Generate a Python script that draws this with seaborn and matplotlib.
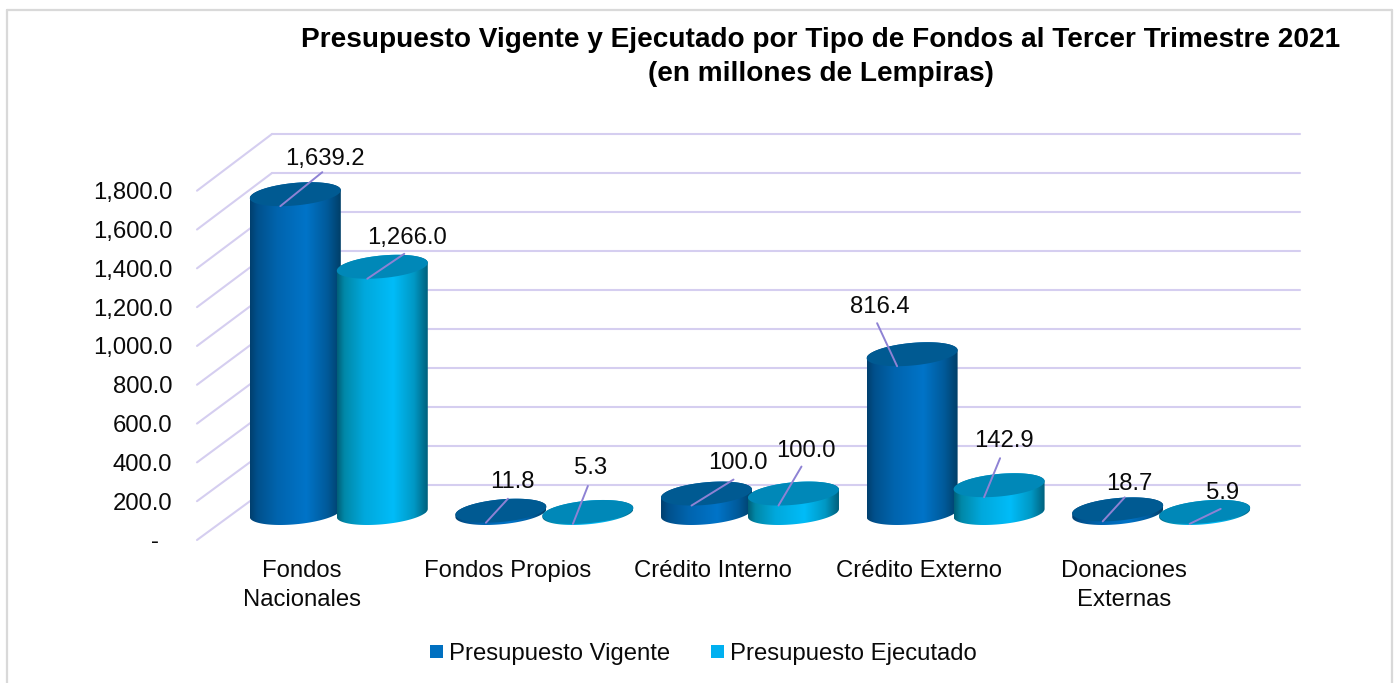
import numpy as np
import pandas as pd
import matplotlib
matplotlib.use("Agg")
import matplotlib.pyplot as plt
import seaborn as sns
from matplotlib.colors import to_rgb
from matplotlib.lines import Line2D
from matplotlib.patches import Patch, Polygon
from matplotlib.transforms import IdentityTransform

# ---------- data ----------
categories = ["Fondos\nNacionales", "Fondos Propios", "Crédito Interno",
              "Crédito Externo", "Donaciones\nExternas"]
vigente = [1639.2, 11.8, 100.0, 816.4, 18.7]
ejecutado = [1266.0, 5.3, 100.0, 142.9, 5.9]
series_names = ["Presupuesto Vigente", "Presupuesto Ejecutado"]
tick_values = [0, 200, 400, 600, 800, 1000, 1200, 1400, 1600, 1800]
title_text = ("Presupuesto Vigente y Ejecutado por Tipo de Fondos al Tercer Trimestre 2021\n"
              "(en millones de Lempiras)")

# ---------- layout / style (pixels) ----------
W, H = 1396, 683
PLOT_W = 1028
FRONT = (199, 540)   # left, zero line of the front plane
MID = (236, 513)     # plane where the cylinders stand
BACK = (272, 485)    # back wall
PX_PER_UNIT = 351 / 1800
MID_PX_PER_UNIT = 0.1945
FRONT_PX_PER_UNIT = 349.3 / 1800
BAR_PX = 91
ELL_B, ELL_K = 11.3, 4.0
FONT_PT = 17.2
# leader end and label centre, relative to the leader's start (x right, y up)
leader_end = {0: [(42, 34), (22, 24), (42, 26), (-20, 43), (22, 24)],
              1: [(37, 25), (15, 38), (23, 39), (16, 39), (31, 15)]}
label_off = {0: [(45, 47), (26, 41), (46, 43), (-17, 59), (27, 37)],
             1: [(40, 41), (18, 56), (27, 55), (20, 56), (33, 31)]}
palette = {series_names[0]: "#0070C0", series_names[1]: "#00B0F0"}
top_colors = ["#005A92", "#0088B8"]
stops = [0, .08, .3, .62, .85, 1]
body_colors = [["#003F6E", "#00508C", "#0064AE", "#0074C8", "#005A9A", "#003F68"],
               ["#005F78", "#0088A8", "#00A8DC", "#00BCF8", "#0098C4", "#00607C"]]
GRID = "#D5CEF0"
LEADER = "#8E82D4"
FRAME = "#D9D9D9"
TEXT = "#0A0A0A"

sns.set_theme(style="white", font="Liberation Sans")
plt.rcParams["font.family"] = ["Liberation Sans", "DejaVu Sans"]

fig = plt.figure(figsize=(W / 100, H / 100), dpi=100, facecolor="white")


def plane(left, zero_y, lower=0.0, scale=PX_PER_UNIT):
    """Axes with the shared scale; zero at pixel row zero_y."""
    bottom_px = zero_y + (0 - lower) * scale
    height = (1800 - lower) * scale
    ax = fig.add_axes([left / W, 1 - bottom_px / H, PLOT_W / W, height / H])
    ax.set_facecolor("none")
    ax.set_xlim(-0.5, 4.5)
    ax.set_ylim(lower, 1800)
    sns.despine(ax=ax, left=True, bottom=True)
    return ax


ax_back = plane(*BACK)
ax_front = plane(*FRONT, scale=FRONT_PX_PER_UNIT)
ax_mid = plane(*MID, lower=-170, scale=MID_PX_PER_UNIT)

identity = IdentityTransform()

# back wall grid
ax_back.set_yticks(tick_values)
ax_back.set_xticks([])
ax_back.tick_params(left=False, labelleft=False)
ax_back.grid(axis="y", color=GRID, lw=1.5)
for gl in ax_back.get_ygridlines():
    gl.set_clip_on(False)

# front plane ticks
ax_front.set_yticks(tick_values)
ax_front.set_yticklabels(["-  " if v == 0 else f"{v:,.1f}" for v in tick_values])
ax_front.set_xticks(range(len(categories)))
ax_front.set_xticklabels(categories, linespacing=1.38)
ax_front.tick_params(axis="y", length=0, pad=19.2, labelsize=FONT_PT, labelcolor=TEXT)
ax_front.tick_params(axis="x", length=0, pad=14.7, labelsize=FONT_PT, labelcolor=TEXT)

# side wall diagonals
for v in tick_values:
    p0 = ax_front.transData.transform((-0.5, v))
    p1 = ax_back.transData.transform((-0.5, v))
    ax_back.add_line(Line2D([p0[0] - 2, p1[0]], [p0[1], p1[1]], color=GRID, lw=1.5,
                            transform=identity, clip_on=False))

# bars
df = pd.DataFrame({
    "categoria": categories * 2,
    "serie": [series_names[0]] * len(categories) + [series_names[1]] * len(categories),
    "valor": vigente + ejecutado,
})
sns.barplot(data=df, x="categoria", y="valor", hue="serie", order=categories,
            hue_order=series_names, palette=palette, width=0.846, saturation=1,
            legend=False, ax=ax_mid, zorder=2)
ax_mid.set_xlim(-0.5, 4.5)
ax_mid.set_ylim(-170, 1800)
ax_mid.set_xlabel("")
ax_mid.set_ylabel("")
ax_mid.set_xticks([])
ax_mid.set_yticks([])
ax_mid.grid(False)

rects = list(ax_mid.patches)
n = len(categories)
items = []
for i, rect in enumerate(rects):
    s = i // n
    c = i % n
    xc = rect.get_x() + rect.get_width() / 2
    cx, cy0 = ax_mid.transData.transform((xc, 0))
    _, cy1 = ax_mid.transData.transform((xc, rect.get_height()))
    items.append((c, s, rect, cx, cy0, cy1))
items.sort(key=lambda t: (t[0], t[1]))


def ellipse(cx, cy, t):
    a = BAR_PX / 2
    return np.column_stack([cx + a * np.cos(t), cy + ELL_B * np.sin(t) + ELL_K * np.cos(t)])


z = 3
for c, s, rect, cx, cy0, cy1 in items:
    lower = ellipse(cx, cy0, np.linspace(np.pi, 2 * np.pi, 80))
    upper = ellipse(cx, cy1, np.linspace(0, np.pi, 80))
    body = Polygon(np.vstack([lower, upper]), closed=True, transform=identity,
                   facecolor="none", edgecolor="none", zorder=z)
    ax_mid.add_patch(body)
    rect.set_clip_path(body)
    u = np.linspace(0, 1, 256)
    rgb = np.array([to_rgb(col) for col in body_colors[s]])
    grad = np.stack([np.interp(u, stops, rgb[:, k]) for k in range(3)], axis=1)[None, :, :]
    im = ax_mid.imshow(grad, extent=(cx - BAR_PX / 2, cx + BAR_PX / 2, cy0 - 20, cy1 + 20),
                       aspect="auto", transform=identity, interpolation="bilinear", zorder=z)
    im.set_clip_path(body)
    top = Polygon(ellipse(cx, cy1, np.linspace(0, 2 * np.pi, 160)), closed=True,
                  transform=identity, facecolor=top_colors[s], edgecolor="none", zorder=z + 0.1)
    ax_mid.add_patch(top)
    z += 1

# leaders and value labels (drawn above all cylinders)
for c, s, rect, cx, cy0, cy1 in items:
    start = (cx - 15, cy1 - 12)
    ex, ey = leader_end[s][c]
    ax_mid.add_line(Line2D([start[0], start[0] + ex], [start[1], start[1] + ey], color=LEADER,
                           lw=1.4, transform=identity, zorder=50, clip_on=False))
    lx, ly = label_off[s][c]
    ax_mid.text(start[0] + lx, start[1] + ly, f"{rect.get_height():,.1f}", transform=identity,
                ha="center", va="center", fontsize=FONT_PT, color=TEXT, zorder=51)

# title
fig.text(820.5 / W, 1 - 57 / H, title_text, ha="center", va="center", fontsize=20.2,
         fontweight="bold", color="black", linespacing=1.42)

# legend
handles = [Patch(facecolor=palette[nm], edgecolor="none", label=nm) for nm in series_names]
fig.legend(handles=handles, loc="center", bbox_to_anchor=(703.5 / W, 1 - 654 / H), ncol=2,
           frameon=False, fontsize=FONT_PT, handlelength=0.54, handleheight=0.454,
           handletextpad=0.25, columnspacing=1.72, labelcolor=TEXT)

# outer frame
for xs, ys in [((7, 7), (0, H - 10)), ((7, 1392), (H - 10, H - 10)), ((1392, 1392), (H - 10, 0))]:
    ax_back.add_line(Line2D(xs, ys, color=FRAME, lw=1.6, transform=identity, clip_on=False))

fig.savefig("out.png", dpi=100, facecolor="white")
